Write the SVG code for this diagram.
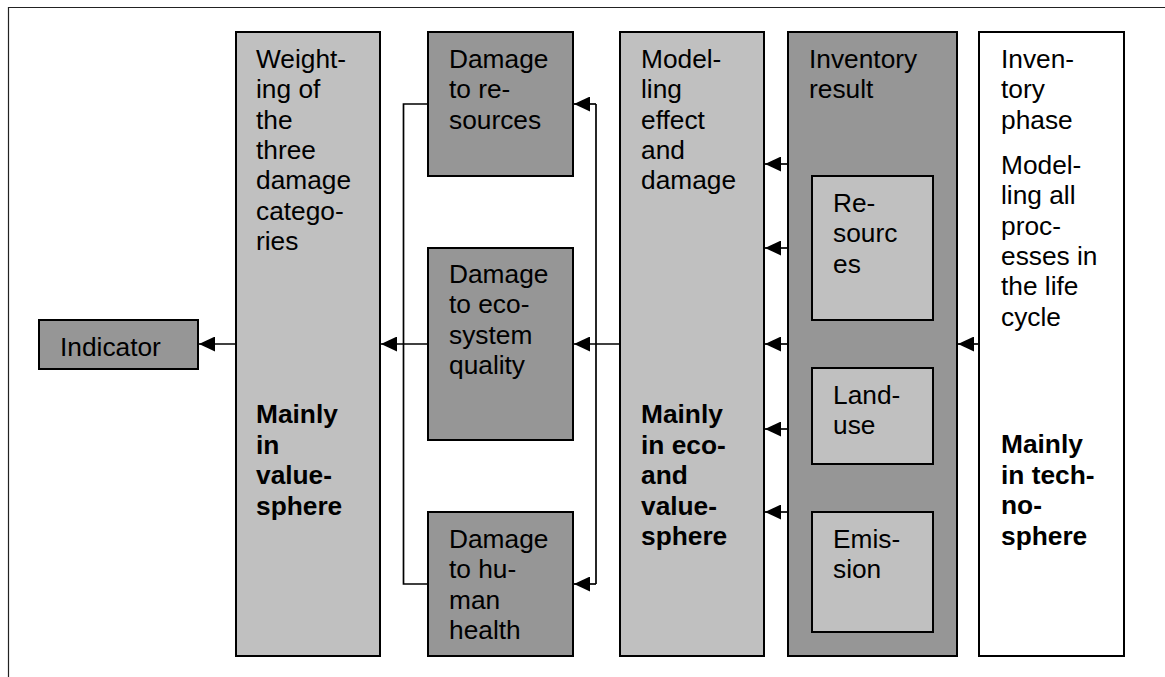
<svg xmlns="http://www.w3.org/2000/svg" width="1165" height="677" viewBox="0 0 1165 677">
<defs>
<style>
.box{stroke:#000;stroke-width:2}
.lg{fill:#c0c0c0}
.dg{fill:#969696}
.wh{fill:#fff}
text{font-family:"Liberation Sans",Arial,sans-serif;font-size:26.3px;fill:#000}
.b{font-weight:bold}
.c{fill:none;stroke:#000;stroke-width:1.7}
.ah{fill:#000}
</style>
<marker id="arr" viewBox="0 0 16 15" refX="16" refY="7.5" markerWidth="16" markerHeight="15" markerUnits="userSpaceOnUse" orient="auto">
<path d="M16,7.5 L0,0 L0,15 Z" class="ah"/>
</marker>
</defs>
<rect width="1165" height="677" fill="#fff"/>
<g id="frame">
<line x1="8" y1="7.5" x2="1165" y2="7.5" stroke="#222" stroke-width="1.2"/>
<line x1="8.5" y1="7" x2="8.5" y2="677" stroke="#222" stroke-width="1.2"/>
</g>
<g id="indicator">
<rect class="box dg" x="39" y="320" width="159" height="49"/>
<text x="60" y="356">Indicator</text>
</g>
<g id="weighting">
<rect class="box lg" x="236" y="32" width="144" height="624"/>
<text x="256" y="68">Weight-<tspan x="256" dy="30.3">ing of</tspan><tspan x="256" dy="30.3">the</tspan><tspan x="256" dy="30.3">three</tspan><tspan x="256" dy="30.3">damage</tspan><tspan x="256" dy="30.3">catego-</tspan><tspan x="256" dy="30.3">ries</tspan></text>
<text class="b" x="256" y="423">Mainly<tspan x="256" dy="30.5">in</tspan><tspan x="256" dy="30.5">value-</tspan><tspan x="256" dy="30.5">sphere</tspan></text>
</g>
<g id="damage-resources">
<rect class="box dg" x="428" y="32" width="145" height="144"/>
<text x="449" y="68">Damage<tspan x="449" dy="30.3">to re-</tspan><tspan x="449" dy="30.3">sources</tspan></text>
</g>
<g id="damage-ecosystem">
<rect class="box dg" x="428" y="248" width="145" height="192"/>
<text x="449" y="283">Damage<tspan x="449" dy="30.3">to eco-</tspan><tspan x="449" dy="30.3">system</tspan><tspan x="449" dy="30.3">quality</tspan></text>
</g>
<g id="damage-health">
<rect class="box dg" x="428" y="512" width="145" height="144"/>
<text x="449" y="548">Damage<tspan x="449" dy="30.3">to hu-</tspan><tspan x="449" dy="30.3">man</tspan><tspan x="449" dy="30.3">health</tspan></text>
</g>
<g id="modelling">
<rect class="box lg" x="620" y="32" width="144" height="624"/>
<text x="641" y="68">Model-<tspan x="641" dy="30.3">ling</tspan><tspan x="641" dy="30.3">effect</tspan><tspan x="641" dy="30.3">and</tspan><tspan x="641" dy="30.3">damage</tspan></text>
<text class="b" x="641" y="423">Mainly<tspan x="641" dy="30.5">in eco-</tspan><tspan x="641" dy="30.5">and</tspan><tspan x="641" dy="30.5">value-</tspan><tspan x="641" dy="30.5">sphere</tspan></text>
</g>
<g id="inventory-result">
<rect class="box dg" x="788" y="32" width="169" height="624"/>
<text x="809" y="68">Inventory<tspan x="809" dy="30.3">result</tspan></text>
</g>
<g id="resources">
<rect class="box lg" x="812" y="176" width="121" height="144"/>
<text x="833" y="212">Re-<tspan x="833" dy="30.3">sourc</tspan><tspan x="833" dy="30.3">es</tspan></text>
</g>
<g id="land-use">
<rect class="box lg" x="812" y="368" width="121" height="96"/>
<text x="833" y="404">Land-<tspan x="833" dy="30.3">use</tspan></text>
</g>
<g id="emission">
<rect class="box lg" x="812" y="512" width="121" height="120"/>
<text x="833" y="548">Emis-<tspan x="833" dy="30.3">sion</tspan></text>
</g>
<g id="inventory-phase">
<rect class="box wh" x="979" y="32" width="145" height="624"/>
<text x="1001" y="68">Inven-<tspan x="1001" dy="30.3">tory</tspan><tspan x="1001" dy="30.3">phase</tspan></text>
<text x="1001" y="174">Model-<tspan x="1001" dy="30.3">ling all</tspan><tspan x="1001" dy="30.3">proc-</tspan><tspan x="1001" dy="30.3">esses in</tspan><tspan x="1001" dy="30.3">the life</tspan><tspan x="1001" dy="30.3">cycle</tspan></text>
<text class="b" x="1001" y="453">Mainly<tspan x="1001" dy="30.5">in tech-</tspan><tspan x="1001" dy="30.5">no-</tspan><tspan x="1001" dy="30.5">sphere</tspan></text>
</g>
<g id="connectors">
<path class="c" d="M236,344 H199" marker-end="url(#arr)"/>
<path class="c" d="M428,104 H403.5 V584 H428"/>
<path class="c" d="M428,344 H381" marker-end="url(#arr)"/>
<path class="c" d="M596,104 H574" marker-end="url(#arr)"/>
<path class="c" d="M596,104 V584"/>
<path class="c" d="M596,584 H574" marker-end="url(#arr)"/>
<path class="c" d="M620,344 H574" marker-end="url(#arr)"/>
<path class="c" d="M788,164 H765" marker-end="url(#arr)"/>
<path class="c" d="M788,248 H765" marker-end="url(#arr)"/>
<path class="c" d="M788,344 H765" marker-end="url(#arr)"/>
<path class="c" d="M788,429 H765" marker-end="url(#arr)"/>
<path class="c" d="M788,512 H765" marker-end="url(#arr)"/>
<path class="c" d="M979,344 H958" marker-end="url(#arr)"/>
</g>
</svg>
